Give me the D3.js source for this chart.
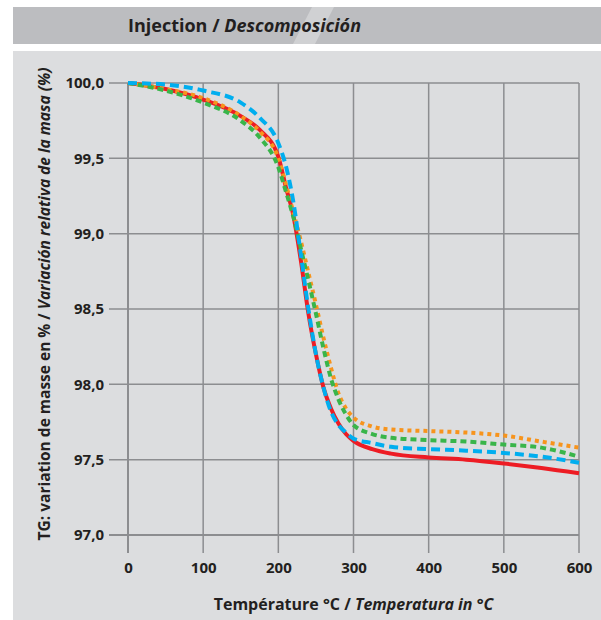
<!DOCTYPE html>
<html>
<head>
<meta charset="utf-8">
<script src="https://cdn.jsdelivr.net/npm/d3@7"></script>
<style>
  body { margin: 0; background: #fff; }
  text { font-family: "Open Sans", sans-serif; fill: #231f20; }
</style>
</head>
<body>
<div id="chart"></div>
<script>
// temperatures (°C) shared by all curves
var temps = [0, 50, 100, 150, 175, 200, 210, 220, 230, 240, 250, 260, 270, 280, 290, 300, 325, 350, 400, 450, 500, 550, 600];

// mass (%)
var redMass    = [100.00, 99.96, 99.89, 99.78, 99.69, 99.51, 99.31, 99.12, 98.82, 98.47, 98.20, 97.98, 97.84, 97.74, 97.67, 97.625, 97.57, 97.54, 97.515, 97.50, 97.475, 97.445, 97.41];
var orangeMass = [100.00, 99.96, 99.90, 99.78, 99.68, 99.50, 99.33, 99.14, 98.95, 98.74, 98.53, 98.31, 98.11, 97.94, 97.84, 97.78, 97.72, 97.70, 97.69, 97.68, 97.66, 97.62, 97.58];
var greenMass  = [100.00, 99.95, 99.87, 99.75, 99.64, 99.44, 99.28, 99.11, 98.90, 98.69, 98.47, 98.24, 98.04, 97.90, 97.80, 97.73, 97.67, 97.645, 97.63, 97.62, 97.60, 97.58, 97.52];
var blueMass   = [100.00, 99.99, 99.95, 99.87, 99.77, 99.60, 99.45, 99.21, 98.86, 98.50, 98.20, 97.98, 97.82, 97.73, 97.68, 97.64, 97.61, 97.585, 97.57, 97.56, 97.545, 97.52, 97.48];

var xTicks = [0, 100, 200, 300, 400, 500, 600];
var yTicks = [97.0, 97.5, 98.0, 98.5, 99.0, 99.5, 100.0];

var series = [
  {name: "red",    values: redMass,    color: "#ed1c24", dash: null},
  {name: "orange", values: orangeMass, color: "#f7941d", dash: "4,4"},
  {name: "green",  values: greenMass,  color: "#39b54a", dash: "6,4"},
  {name: "blue",   values: blueMass,   color: "#00aeef", dash: "9,5"}
];

(function() {
  var W = 601, H = 620;
  var pLeft = 128, pRight = 579, pTop = 83, pBottom = 535;

  var svg = d3.select("#chart").append("svg")
    .attr("width", W).attr("height", H);

  // header band + panel
  svg.append("rect").attr("x", 13).attr("y", 7).attr("width", W - 13).attr("height", 37).attr("fill", "#bcbdc0");
  svg.append("path").attr("d", "M312,7L334,7L315,44L293,44Z").attr("fill", "#fff").attr("opacity", 0.3);
  svg.append("rect").attr("x", 13).attr("y", 51).attr("width", W - 13).attr("height", H - 51).attr("fill", "#dcdddf");

  var title = svg.append("text").attr("x", 128).attr("y", 32)
    .style("font-size", "18px").style("font-weight", 700);
  title.append("tspan").text("Injection / ");
  title.append("tspan").style("font-style", "italic").text("Descomposición");

  var x = d3.scaleLinear().domain([0, 600]).range([pLeft, pRight]);
  var y = d3.scaleLinear().domain([97, 100]).range([pBottom, pTop]);

  // grid
  var grid = svg.append("g");
  grid.selectAll(".vg").data(xTicks).enter().append("line")
    .attr("x1", function(d) { return x(d); }).attr("x2", function(d) { return x(d); })
    .attr("y1", pTop).attr("y2", pBottom + 18)
    .attr("stroke", "#8c8d90").attr("stroke-width", function(d) { return d === 0 ? 2 : 1.5; });
  grid.selectAll(".hg").data(yTicks).enter().append("line")
    .attr("x1", pLeft - 19).attr("x2", pRight)
    .attr("y1", function(d) { return y(d); }).attr("y2", function(d) { return y(d); })
    .attr("stroke", "#8c8d90").attr("stroke-width", function(d) { return d === 97 ? 2 : 1.5; });

  // axis labels
  var yAxis = svg.append("g").attr("transform", "translate(" + (pLeft - 24) + ",0)")
    .call(d3.axisLeft(y).tickValues(yTicks).tickSize(0)
      .tickFormat(function(d) { return d3.format(".1f")(d).replace(".", ","); }));
  yAxis.select(".domain").remove();
  yAxis.selectAll("text").attr("x", 0).style("font-size", "15px").style("font-weight", 700)
    .style("font-family", "'Open Sans', sans-serif").attr("fill", "#231f20");

  var xAxis = svg.append("g").attr("transform", "translate(0," + (pBottom + 27) + ")")
    .call(d3.axisBottom(x).tickValues(xTicks).tickSize(0));
  xAxis.select(".domain").remove();
  xAxis.selectAll("text").attr("y", 0).attr("dy", "0.71em").style("font-size", "15px").style("font-weight", 700)
    .style("font-family", "'Open Sans', sans-serif").attr("fill", "#231f20");

  // curves
  var line = d3.line()
    .x(function(d, i) { return x(temps[i]); })
    .y(function(d) { return y(d); })
    .curve(d3.curveMonotoneX);

  svg.selectAll(".curve").data(series).enter().append("path")
    .attr("class", "curve")
    .attr("d", function(s) { return line(s.values); })
    .attr("fill", "none")
    .attr("stroke", function(s) { return s.color; })
    .attr("stroke-width", 4)
    .attr("stroke-dasharray", function(s) { return s.dash; });

  // axis titles
  var xt = svg.append("text").attr("x", (pLeft + pRight) / 2).attr("y", 610)
    .attr("text-anchor", "middle").style("font-size", "16px").style("font-weight", 700);
  xt.append("tspan").text("Température °C / ");
  xt.append("tspan").style("font-style", "italic").text("Temperatura in °C");

  var yt = svg.append("text").attr("transform", "translate(50," + ((pTop + pBottom) / 2 - 5) + ") rotate(-90)")
    .attr("text-anchor", "middle").style("font-size", "15.5px").style("font-weight", 700);
  yt.append("tspan").text("TG: variation de masse en % / ");
  yt.append("tspan").style("font-style", "italic").text("Variación relativa de la masa (%)");
})();
</script>
</body>
</html>
